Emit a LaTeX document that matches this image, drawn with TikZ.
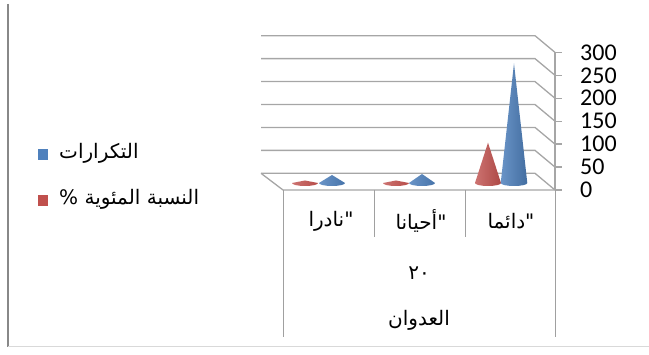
\documentclass[tikz,border=0pt]{standalone}
\usepackage{fontspec}
\setmainfont{Carlito}
\newfontfamily\arabicfont[Script=Arabic]{DejaVu Sans}
\TeXXeTstate=1
\definecolor{gridc}{HTML}{A6A6A6}
\definecolor{bordL}{HTML}{888888}
\definecolor{bordB}{HTML}{D9D9D9}
\definecolor{tabc}{HTML}{A0A0A0}
\definecolor{serblue}{HTML}{4F81BD}
\definecolor{serred}{HTML}{C0504D}
\newcommand\drawcone[7]{%
  \shade[left color=#5, middle color=#6, right color=#7]
    (#1-#4,#2) -- (#1,#3) -- (#1+#4,#2)
    arc[start angle=0, end angle=180, x radius=#4, y radius=3] -- cycle;}
\begin{document}
\begin{tikzpicture}[x=1pt, y=-1pt,
  grid/.style={draw=gridc, line width=1.3pt},
  tab/.style={draw=tabc, line width=1pt},
  axlab/.style={anchor=west, inner sep=0pt, font=\fontsize{24}{24}\selectfont},
  artxt/.style={inner sep=0pt, font=\arabicfont\fontsize{20}{24}\selectfont},
  legsq/.style={minimum width=10pt, minimum height=11pt, inner sep=0pt}]
\useasboundingbox (0,0) rectangle (649,355);
% outer border
\draw[draw=bordL, line width=1.6pt] (8,4) -- (8,347);
\draw[draw=bordB, line width=1pt] (8,347) -- (649,347);
% gridlines on back and side wall
\foreach \v in {0,50,...,300} {
  \pgfmathsetmacro\yb{173.3-0.4587*\v}
  \pgfmathsetmacro\yf{\yb+16.7}
  \draw[grid] (261,\yb) -- (535,\yb) -- (555,\yf);
  \draw[grid] (555,\yf) -- (562,\yf);
  \node[axlab] (lab\v) at (580,\yf) {\v};
}
% floor edges and axis
\coordinate (fl1) at (261,173.3);
\coordinate (fl2) at (283,190);
\coordinate (fl3) at (555,190);
\coordinate (ax) at (555,52.3);
\draw[grid] (fl1) -- (fl2) -- (fl3);
\draw[grid] (ax) -- (fl3);
% cones
\drawcone{305}{183}{180.5}{13}{serred!80}{serred!70!white}{serred!95!black}
\drawcone{332}{183}{175}{13}{serblue!85}{serblue!70!white}{serblue!90!black}
\drawcone{396}{183}{180.5}{13}{serred!80}{serred!70!white}{serred!95!black}
\drawcone{422}{183}{174}{13}{serblue!85}{serblue!70!white}{serblue!90!black}
\drawcone{488}{183}{142.7}{13}{serred!80}{serred!65!white}{serred!90!black}
\drawcone{514}{183}{63.3}{13.3}{serblue!85}{serblue!65!white}{serblue!85!black}
% table
\coordinate (t1a) at (283,190); \coordinate (t1b) at (283,337);
\coordinate (t2a) at (374,190); \coordinate (t2b) at (374,237);
\coordinate (t3a) at (465,190); \coordinate (t3b) at (465,237);
\coordinate (t4a) at (555,190); \coordinate (t4b) at (555,337);
\draw[tab] (t1a) -- (t1b);
\draw[tab] (t2a) -- (t2b);
\draw[tab] (t3a) -- (t3b);
\draw[tab] (t4a) -- (t4b);
\node[artxt] (c1) at (331,221) {"نادرا};
\node[artxt] (c2) at (421,221) {"أحيانا};
\node[artxt] (c3) at (511,221) {"دائما};
\node[artxt] (num) at (419,273) {٢٠};
\node[artxt] (grp) at (419,320) {العدوان};
% legend
\node[legsq, fill=serblue] (sq1) at (43,154.5) {};
\node[artxt, anchor=west] (leg1) at (59,153) {\beginR التكرارات\endR};
\node[legsq, fill=serred] (sq2) at (43,200.5) {};
\node[artxt, anchor=west] (leg2) at (59,199) {\beginR النسبة المئوية \%\endR};
\end{tikzpicture}
\end{document}
